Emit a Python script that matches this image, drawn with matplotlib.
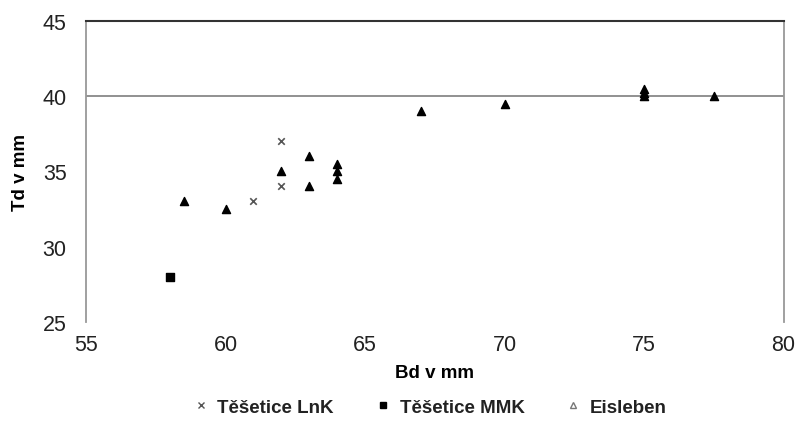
import matplotlib

matplotlib.use("Agg")
import matplotlib.pyplot as plt
from matplotlib.lines import Line2D

plt.rcParams["font.family"] = ["Liberation Sans", "DejaVu Sans"]

# Těšetice LnK
lnk_bd = [62, 62, 61]
lnk_td = [37, 34, 33]
# Těšetice MMK
mmk_bd = [58]
mmk_td = [28]
# Eisleben
eis_bd = [58.5, 60, 62, 63, 63, 64, 64, 64, 67, 70, 75, 75, 75, 77.5]
eis_td = [33, 32.5, 35, 36, 34, 35.5, 35, 34.5, 39, 39.5, 40, 40.2, 40.5, 40]

labels = ["Těšetice LnK", "Těšetice MMK", "Eisleben"]
xticks = [55, 60, 65, 70, 75, 80]
yticks = [25, 30, 35, 40, 45]

fig = plt.figure(figsize=(8, 4.31), dpi=100)
ax = fig.add_axes([0.1075, 0.251, 0.872, 0.698])

ax.scatter(lnk_bd, lnk_td, marker="x", s=22, color="#555555", linewidths=1.2, zorder=3)
ax.scatter(mmk_bd, mmk_td, marker="s", s=30, color="black", zorder=3)
ax.scatter(eis_bd, eis_td, marker="^", s=34, color="black", zorder=3)

ax.set_xlim(55, 80)
ax.set_ylim(25, 45)
ax.set_xticks(xticks)
ax.set_yticks(yticks)
ax.axhline(40, color="#888888", lw=1.3, zorder=1)

for s in ["left", "right"]:
    ax.spines[s].set_color("#999999")
    ax.spines[s].set_linewidth(1.3)
ax.spines["top"].set_color("#333333")
ax.spines["top"].set_linewidth(1.5)
ax.spines["bottom"].set_visible(False)

ax.tick_params(axis="both", labelsize=15.5, colors="#999999", labelcolor="#222222", length=0)
ax.tick_params(axis="x", pad=9)
ax.tick_params(axis="y", pad=14)

ax.set_xlabel("Bd v mm", fontsize=13.5, fontweight="bold", labelpad=6)
ax.set_ylabel("Td v mm", fontsize=13.5, fontweight="bold", labelpad=10)

handles = [
    Line2D([], [], ls="none", marker="x", color="#555555", ms=4, mew=1),
    Line2D([], [], ls="none", marker="s", color="black", ms=4),
    Line2D([], [], ls="none", marker="^", color="#777777", ms=4, mfc="none"),
]
leg = fig.legend(handles, labels, loc="center", bbox_to_anchor=(0.5375, 0.053), ncol=3,
                 frameon=False, prop={"weight": "bold", "size": 13.5},
                 columnspacing=2.2, handletextpad=0.5, handlelength=0.8)
for t in leg.get_texts():
    t.set_color("#222222")

fig.savefig("out.png", dpi=100)
